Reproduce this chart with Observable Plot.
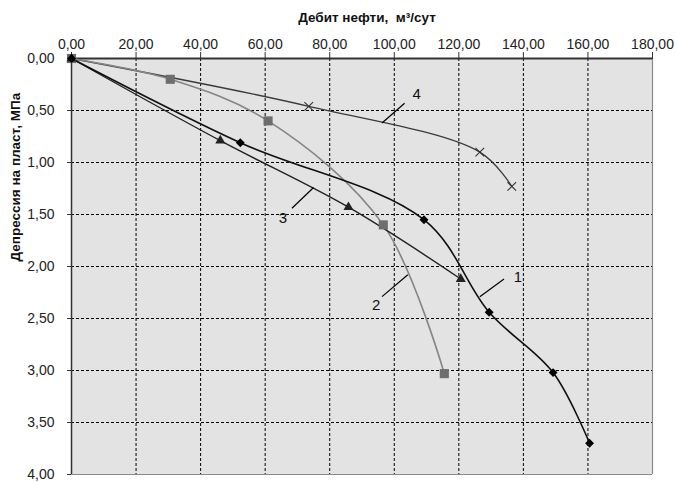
<!DOCTYPE html>
<html>
<head>
<meta charset="utf-8">
<script src="https://cdn.jsdelivr.net/npm/d3@7"></script>
<script src="https://cdn.jsdelivr.net/npm/@observablehq/plot@0.6"></script>
<style>
  html, body { margin: 0; padding: 0; background: white; }
  #chart svg { display: block; }
</style>
</head>
<body>
<div id="chart"></div>
<script>
// Series data (Дебит нефти, м³/сут  vs  Депрессия на пласт, МПа)
const s1Rate = [0, 52.3, 109.2, 129.4, 149.2, 160.5];
const s1Dep  = [0, 0.81, 1.55, 2.44, 3.02, 3.70];
const s2Rate = [0, 30.6, 60.9, 96.6, 115.5];
const s2Dep  = [0, 0.20, 0.60, 1.60, 3.03];
const s3Rate = [0, 46.1, 85.8, 120.6];
const s3Dep  = [0, 0.79, 1.43, 2.12];
const s4Rate = [0, 73.5, 126.5, 136.4];
const s4Dep  = [0, 0.46, 0.90, 1.23];

const xTicks = [0, 20, 40, 60, 80, 100, 120, 140, 160, 180];
const yTicks = [0, 0.5, 1, 1.5, 2, 2.5, 3, 3.5, 4];

// curve labels and leader lines (data coordinates)
const labelText = ["1", "2", "3", "4"];
const labelX = [138.3, 94.4, 65.5, 106.9];
const labelY = [2.10, 2.37, 1.54, 0.34];
const leadX1 = [126.5, 96.2, 68.3, 96.2];
const leadY1 = [2.29, 2.29, 1.44, 0.62];
const leadX2 = [134.0, 104.2, 75.0, 103.2];
const leadY2 = [2.12, 2.08, 1.24, 0.43];

const toRows = (xs, ys) => xs.map((x, i) => ({x, y: ys[i]}));
const s1 = toRows(s1Rate, s1Dep);
const s2 = toRows(s2Rate, s2Dep);
const s3 = toRows(s3Rate, s3Dep);
const s4 = toRows(s4Rate, s4Dep);
const labels = labelText.map((t, i) => ({t, x: labelX[i], y: labelY[i]}));
const leaders = labelText.map((t, i) => ({x1: leadX1[i], y1: leadY1[i], x2: leadX2[i], y2: leadY2[i]}));

const fmt = d => d.toFixed(2).replace(".", ",");
const grid = {stroke: "#000", strokeOpacity: 1, strokeWidth: 1, strokeDasharray: "3,2"};

const chart = Plot.plot({
  width: 677,
  height: 482,
  marginLeft: 71,
  marginRight: 25,
  marginTop: 58,
  marginBottom: 8,
  style: {fontFamily: "'Liberation Sans', Arial, sans-serif", background: "white", overflow: "visible"},
  x: {domain: [0, 180]},
  y: {domain: [0, 4], reverse: true},
  marks: [
    Plot.frame({fill: "#e3e3e3", stroke: null}),
    Plot.gridX(xTicks.slice(1, -1), grid),
    Plot.gridY(yTicks.slice(1, -1), grid),
    Plot.ruleX([180], {stroke: "#8a8a8a", strokeWidth: 1.2}),
    Plot.ruleY([4], {stroke: "#8a8a8a", strokeWidth: 1.2}),
    Plot.ruleY([0], {stroke: "#333", strokeWidth: 2}),
    Plot.ruleX([0], {stroke: "#333", strokeWidth: 1.5}),
    Plot.axisX({anchor: "top", ticks: xTicks, tickFormat: fmt, tickSize: 7, tickPadding: 3,
      fontSize: 14, label: null, stroke: "#333", color: "#222"}),
    Plot.axisY({anchor: "left", ticks: yTicks, tickFormat: fmt, tickSize: 4, tickPadding: 13,
      fontSize: 14, label: null, stroke: "#333", color: "#222"}),
    Plot.text(["Дебит нефти,  м³/сут"], {frameAnchor: "top", dx: 5, dy: -41, fontWeight: "bold",
      fontSize: 13.5, fill: "#111", lineAnchor: "middle"}),
    Plot.text(["Депрессия на пласт, МПа"], {frameAnchor: "left", dx: -56, dy: -5, rotate: -90,
      fontWeight: "bold", fontSize: 13.5, fill: "#111", lineAnchor: "middle"}),
    // lines
    Plot.line(s4, {x: "x", y: "y", curve: "catmull-rom", stroke: "#3a3a3a", strokeWidth: 1.3}),
    Plot.line(s2, {x: "x", y: "y", curve: "catmull-rom", stroke: "#858585", strokeWidth: 1.6}),
    Plot.line(s3, {x: "x", y: "y", curve: "catmull-rom", stroke: "#222", strokeWidth: 1.4}),
    Plot.line(s1, {x: "x", y: "y", curve: "catmull-rom", stroke: "#111", strokeWidth: 1.6}),
    // markers
    Plot.dot(s4, {x: "x", y: "y", symbol: "times", r: 4, stroke: "#333", strokeWidth: 1.1}),
    Plot.dot(s2, {x: "x", y: "y", symbol: "square2", r: 5.8, fill: "#6e6e6e", stroke: null}),
    Plot.dot(s3, {x: "x", y: "y", symbol: "triangle2", r: 4.8, fill: "#222", stroke: null}),
    Plot.dot(s1, {x: "x", y: "y", symbol: "diamond2", r: 4, fill: "#000", stroke: null}),
    // annotations
    Plot.link(leaders, {x1: "x1", y1: "y1", x2: "x2", y2: "y2", stroke: "#000", strokeWidth: 1.2}),
    Plot.text(labels, {x: "x", y: "y", text: "t", fontSize: 15, fill: "#111"})
  ]
});
document.getElementById("chart").appendChild(chart);
</script>
</body>
</html>
